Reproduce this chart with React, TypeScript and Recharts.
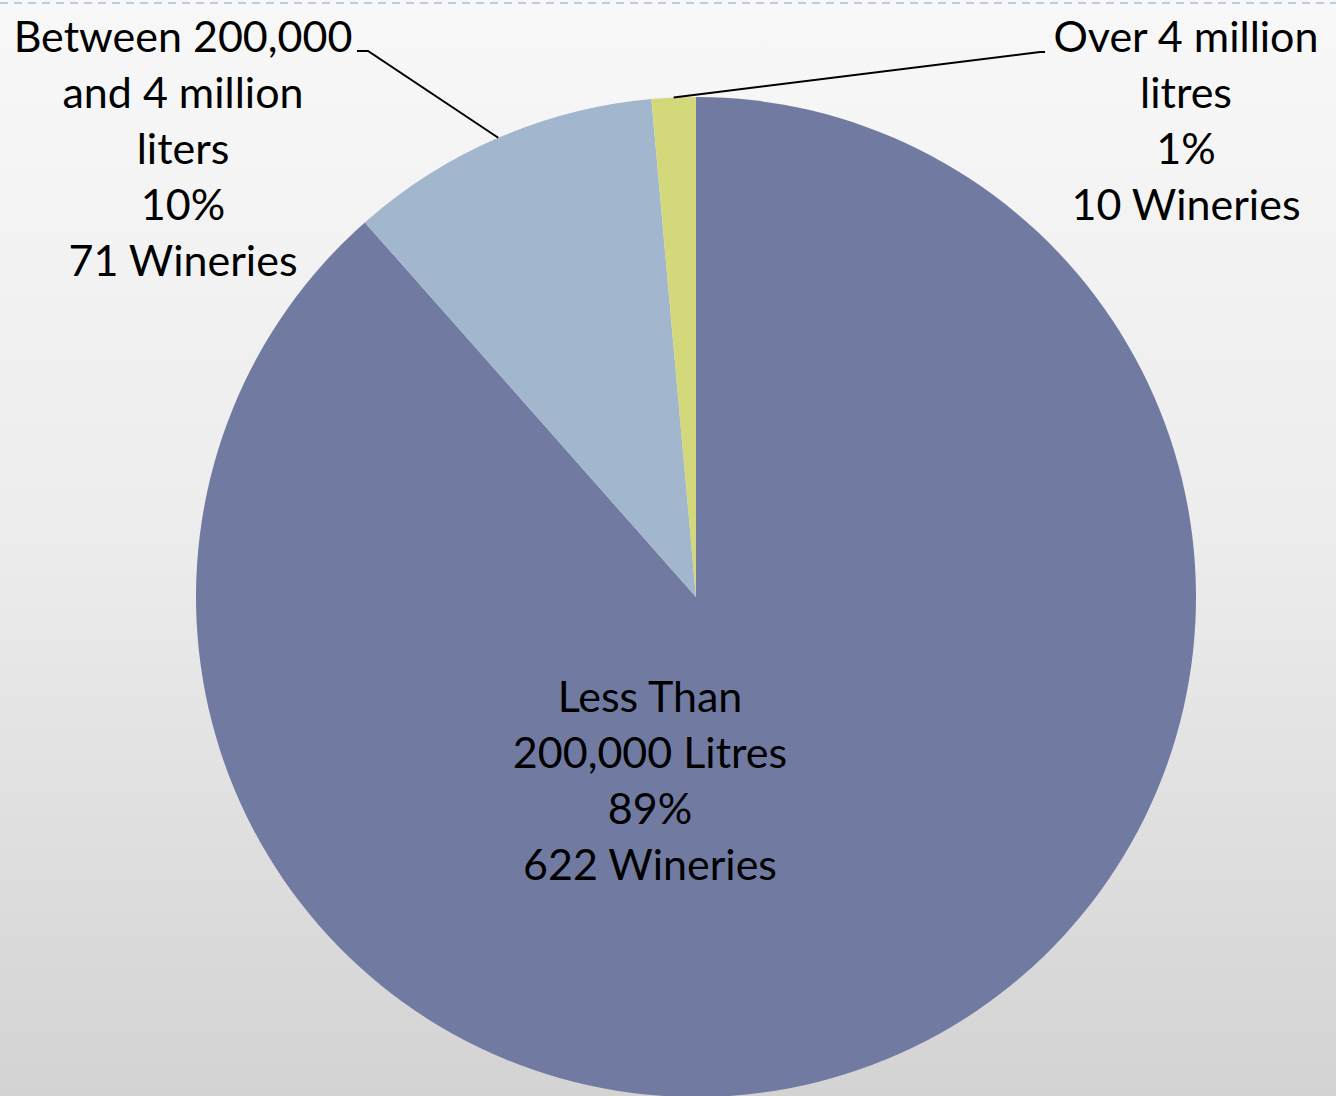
import { PieChart, Pie, Cell } from "recharts";

const categories = [
  "Less Than 200,000 Litres",
  "Between 200,000 and 4 million liters",
  "Over 4 million litres",
];
const wineries = [622, 71, 10];
const percentLabels = ["89%", "10%", "1%"];
const nameLines = [
  ["Less Than", "200,000 Litres"],
  ["Between 200,000", "and 4 million", "liters"],
  ["Over 4 million", "litres"],
];

const colors = ["#717aa1", "#a2b7cd", "#d3d87b"];

// where each label sits, relative to the pie centre
const labelSpots = [
  { dx: -46, dy: 115, elbow: null },
  { dx: -513, dy: -545, elbow: { x: -328, x2: -339, y: -546 } },
  { dx: 490, dy: -545, elbow: { x: 344, x2: 349, y: -545 } },
];

const W = 1336;
const H = 1096;
const LINE = 56;
const FONT = '"Gill Sans", "Gill Sans MT", Lato, "Open Sans", sans-serif';

const data = categories.map((name, i) => ({
  name,
  value: wineries[i],
  pct: percentLabels[i],
  lines: nameLines[i],
}));

const renderLabel = (props: any) => {
  const { cx, cy, midAngle, outerRadius, index } = props;
  const d = data[index];
  const spot = labelSpots[index];
  const rad = (Math.PI / 180) * midAngle;
  const ex = cx + outerRadius * Math.cos(rad);
  const ey = cy - outerRadius * Math.sin(rad);
  const x = cx + spot.dx;
  const y = cy + spot.dy;
  const rows = [...d.lines, d.pct, `${d.value} Wineries`];
  return (
    <g key={`lbl-${index}`}>
      {spot.elbow && (
        <polyline
          points={`${ex},${ey} ${cx + spot.elbow.x},${cy + spot.elbow.y} ${cx + spot.elbow.x2},${cy + spot.elbow.y}`}
          fill="none"
          stroke="#000"
          strokeWidth={2}
        />
      )}
      <text
        x={x}
        y={y}
        textAnchor="middle"
        fill="#000"
        fontSize={43}
        fontFamily={FONT}
      >
        {rows.map((r, i) => (
          <tspan key={i} x={x} dy={i === 0 ? 0 : LINE}>
            {r}
          </tspan>
        ))}
      </text>
    </g>
  );
};

export default function App() {
  return (
    <div
      style={{
        position: "absolute",
        top: 0,
        left: 0,
        width: W,
        height: H,
        overflow: "hidden",
        background: "linear-gradient(to bottom, #f8f8f8 0%, #ececec 50%, #d3d3d3 100%)",
      }}
    >
      <svg
        width={W}
        height={6}
        style={{ position: "absolute", top: 0, left: 0 }}
      >
        <line
          x1={0}
          y1={3}
          x2={W}
          y2={3}
          stroke="#a9bdd3"
          strokeWidth={1.5}
          strokeDasharray="8 6"
        />
      </svg>
      <PieChart
        width={W}
        height={H}
        margin={{ top: 0, right: 0, bottom: 0, left: 0 }}
        style={{ position: "absolute", top: 0, left: 0 }}
      >
        <Pie
          data={data}
          dataKey="value"
          nameKey="name"
          cx={696}
          cy={597}
          outerRadius={500}
          startAngle={90}
          endAngle={-270}
          stroke="none"
          label={renderLabel}
          labelLine={false}
          isAnimationActive={false}
        >
          {data.map((d, i) => (
            <Cell key={d.name} fill={colors[i]} />
          ))}
        </Pie>
      </PieChart>
    </div>
  );
}
